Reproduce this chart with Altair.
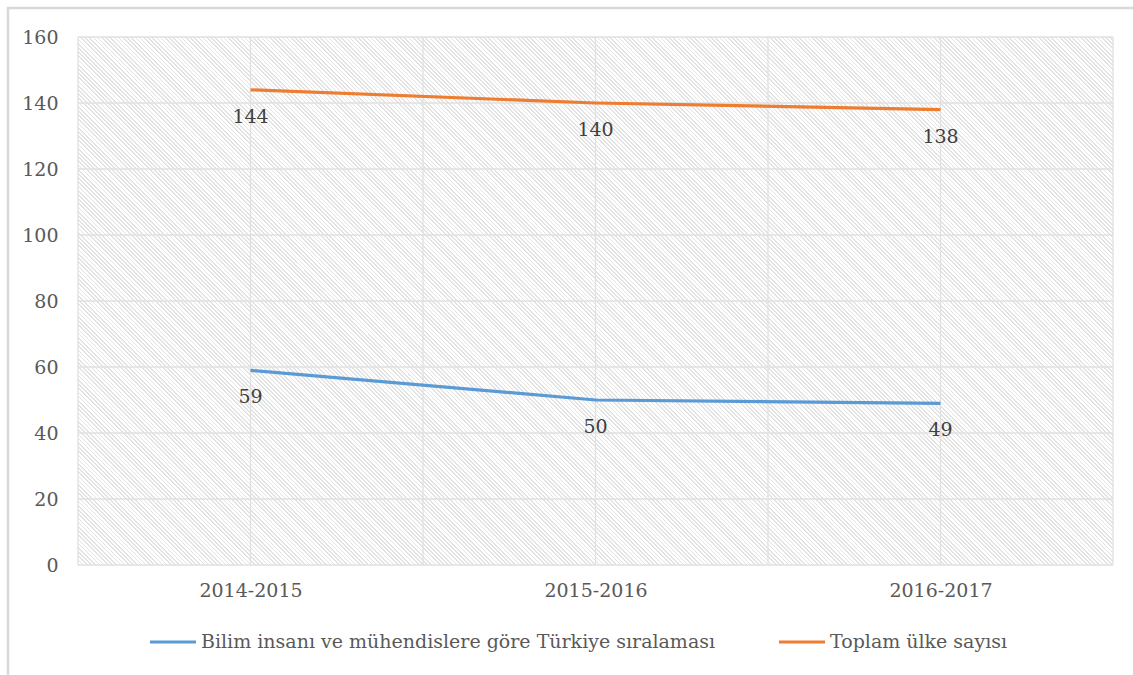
import altair as alt
import pandas as pd

periods = ["2014-2015", "2015-2016", "2016-2017"]
series_names = ["Bilim insanı ve mühendislere göre Türkiye sıralaması", "Toplam ülke sayısı"]
rank_values = [59, 50, 49]
total_values = [144, 140, 138]
colors = ["#5B9BD5", "#ED7D31"]
y_ticks = [0, 20, 40, 60, 80, 100, 120, 140, 160]
x_grid = [0, 0.5, 1, 1.5, 2, 2.5, 3]

W, H = 1035, 528
FONT = "DejaVu Serif"
FS = 19

rows = []
for i, p in enumerate(periods):
    rows.append({"period": p, "pos": i + 0.5, "series": series_names[0], "value": rank_values[i]})
    rows.append({"period": p, "pos": i + 0.5, "series": series_names[1], "value": total_values[i]})
df = pd.DataFrame(rows)

# hatch background as a striped linear gradient (45 degree stripes)
r = H / W
k = (1 + r) / (1 + r * r)
period_px = 4.2
n = int((W + H) / period_px)
stops = []
for j in range(n):
    a = j / n
    b = (j + 0.4) / n
    c = (j + 1) / n
    stops.append(alt.GradientStop(offset=a, color="#e3e3e3"))
    stops.append(alt.GradientStop(offset=b, color="#e3e3e3"))
    stops.append(alt.GradientStop(offset=b, color="#ffffff"))
    stops.append(alt.GradientStop(offset=c, color="#ffffff"))
grad = alt.LinearGradient(gradient="linear", stops=stops, x1=0, y1=1, x2=k, y2=1 - k * r)

x_scale = alt.Scale(domain=[0, 3], nice=False, zero=False)
y_scale = alt.Scale(domain=[0, 160], nice=False)

label_expr = "datum.value == 0.5 ? '2014-2015' : datum.value == 1.5 ? '2015-2016' : datum.value == 2.5 ? '2016-2017' : ''"
x_axis = alt.Axis(values=[0.5, 1.5, 2.5], labelExpr=label_expr, title=None, grid=False,
                  domain=False, ticks=False, tickSize=0, labelPadding=16,
                  labelFontSize=FS, labelFont=FONT, labelColor="#595959", zindex=1)
y_axis = alt.Axis(values=y_ticks, title=None, grid=False, domain=False, ticks=False,
                  tickSize=0, labelPadding=20, labelFontSize=FS, labelFont=FONT,
                  labelColor="#595959", zindex=1)

base = alt.Chart(df)

frame = alt.Chart(pd.DataFrame({"a": [0]})).mark_rect(
    fillOpacity=0, stroke="#d9d9d9", strokeWidth=2.5, clip=False
).encode(
    x=alt.value(-70), x2=alt.value(1133 - 78 + 20),
    y=alt.value(-29), y2=alt.value(675 - 37 + 20)
)

hatch = alt.Chart(pd.DataFrame({"a": [0]})).mark_rect(color=grad).encode(
    x=alt.value(0), x2=alt.value(W), y=alt.value(0), y2=alt.value(H)
)

vgrid = alt.Chart(pd.DataFrame({"g": x_grid})).mark_rule(color="#e0e0e0", strokeWidth=1.3).encode(
    x=alt.X("g:Q", scale=x_scale, axis=x_axis)
)
hgrid = alt.Chart(pd.DataFrame({"g": y_ticks})).mark_rule(color="#e0e0e0", strokeWidth=1.3).encode(
    y=alt.Y("g:Q", scale=y_scale, axis=y_axis)
)

lines = base.mark_line(strokeWidth=3.2).encode(
    x=alt.X("pos:Q", scale=x_scale, axis=x_axis),
    y=alt.Y("value:Q", scale=y_scale, axis=y_axis),
    color=alt.Color("series:N", scale=alt.Scale(domain=series_names, range=colors),
                    legend=alt.Legend(title=None, orient="none", direction="horizontal",
                                      legendX=70, legendY=580, symbolType="stroke",
                                      symbolSize=2116, symbolStrokeWidth=3.2,
                                      labelFontSize=FS, labelFont=FONT, labelColor="#595959",
                                      labelLimit=800, columnPadding=56, labelOffset=3))
)

labels = base.mark_text(dy=27, fontSize=FS, font=FONT, color="#404040").encode(
    x=alt.X("pos:Q", scale=x_scale, axis=x_axis),
    y=alt.Y("value:Q", scale=y_scale, axis=y_axis),
    text=alt.Text("value:Q")
)

chart = alt.layer(frame, hatch, vgrid, hgrid, lines, labels).properties(
    width=W, height=H,
    autosize=alt.AutoSizeParams(type="none"),
    padding={"left": 78, "top": 37, "right": 20, "bottom": 110},
    background="white"
).configure_view(stroke=None)

chart.save("out.html", embed_options={"renderer": "svg", "actions": False})
